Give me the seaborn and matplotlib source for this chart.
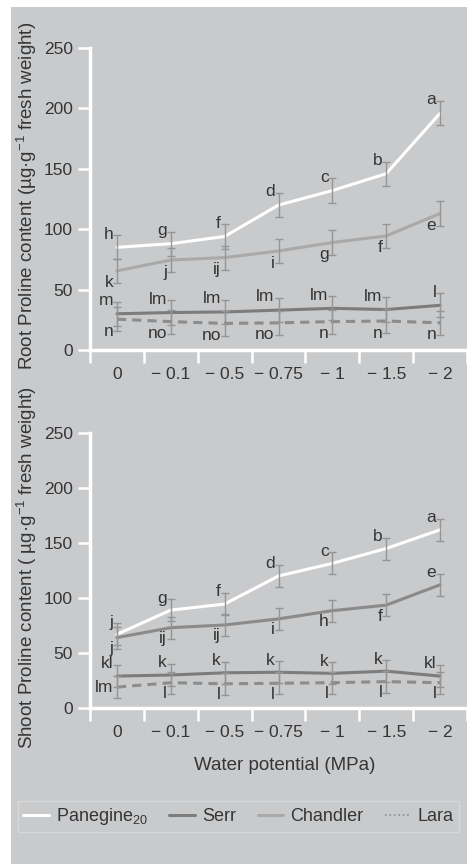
import numpy as np
import pandas as pd
import matplotlib
matplotlib.use('Agg')
import matplotlib.pyplot as plt
import seaborn as sns
from matplotlib.lines import Line2D
from matplotlib.patches import Rectangle

# water potential levels (MPa) and cultivars
potentials = ['0', '\u2212 0.1', '\u2212 0.5', '\u2212 0.75', '\u2212 1', '\u2212 1.5', '\u2212 2']
cultivars = ['Panegine20', 'Serr', 'Chandler', 'Lara']

# ---- root proline (ug/g fresh weight) ----
root_panegine = [85, 88, 94, 120, 132, 146, 196]
root_serr = [30, 31, 31.5, 33, 34.5, 33.5, 37]
root_chandler = [65.5, 74.5, 76.5, 82, 89, 94.5, 113]
root_lara = [25.5, 23.5, 22, 22.5, 23.5, 24, 22.5]
root_err = [10, 10, 10, 10, 10, 10, 10]

root_let_panegine = ['h', 'g', 'f', 'd', 'c', 'b', 'a']
root_let_serr = ['m', 'lm', 'lm', 'lm', 'lm', 'lm', 'l']
root_let_chandler = ['k', 'j', 'ij', 'i', 'g', 'f', 'e']
root_let_lara = ['n', 'no', 'no', 'no', 'n', 'n', 'n']

# ---- shoot proline ----
shoot_panegine = [67, 89, 94.5, 120, 131.5, 145, 162]
shoot_serr = [29, 30, 32, 32.5, 31.5, 33.5, 29]
shoot_chandler = [64, 73, 75.5, 81, 88.5, 93.5, 112]
shoot_lara = [19, 23, 22, 22.5, 23, 24, 23]
shoot_err = [10, 10, 10, 10, 10, 10, 10]

shoot_let_panegine = ['j', 'g', 'f', 'd', 'c', 'b', 'a']
shoot_let_serr = ['kl', 'k', 'k', 'k', 'k', 'k', 'kl']
shoot_let_chandler = ['j', 'ij', 'ij', 'i', 'h', 'f', 'e']
shoot_let_lara = ['lm', 'l', 'l', 'l', 'l', 'l', 'l']

BG = '#c9cacc'
TXT = '#353535'

sns.set_theme(style='white')
plt.rcParams['font.family'] = ['Liberation Sans', 'DejaVu Sans']
plt.rcParams['mathtext.fontset'] = 'custom'
plt.rcParams['mathtext.rm'] = 'Liberation Sans'
plt.rcParams['mathtext.default'] = 'regular'


def make_df(vals):
    rows = []
    for c, v in zip(cultivars, vals):
        for i, y in enumerate(v):
            rows.append({'pos': i, 'value': y, 'cultivar': c})
    return pd.DataFrame(rows)


def draw_panel(ax, vals, errs, letters, places, palette, ylabel):
    df = make_df(vals)
    sns.lineplot(data=df, x='pos', y='value', hue='cultivar', style='cultivar',
                 palette=palette, dashes={'Panegine20': '', 'Serr': '', 'Chandler': '', 'Lara': (3, 2)},
                 hue_order=['Lara', 'Serr', 'Chandler', 'Panegine20'],
                 linewidth=2.2, legend=False, ax=ax)
    for c, v in zip(cultivars, vals):
        ax.errorbar(range(7), v, yerr=errs, fmt='none', ecolor='#959595', elinewidth=1,
                    capsize=3, capthick=1, zorder=5)
    for v, lets, pl in zip(vals, letters, places):
        for i, (y, l, p) in enumerate(zip(v, lets, pl)):
            if p == 'up':
                yy = y + errs[i] + 1
            elif p == 'down':
                yy = y - errs[i]
            else:
                yy = y
            ax.text(i - 0.07, yy, l, ha='right', va='center', fontsize=12.5, color=TXT, zorder=6)

    ax.set_facecolor('none')
    ax.set_xlim(-0.5, 6.35)
    ax.set_ylim(0, 255)
    ax.set_xticks(np.arange(-0.5, 7, 1))
    ax.set_xticks(range(7), minor=True)
    ax.set_xticklabels(potentials, minor=True)
    ax.set_yticks([0, 50, 100, 150, 200, 250])
    ax.tick_params(axis='x', which='major', direction='out', length=9, width=1.8,
                   color='white', labelbottom=False, bottom=True)
    ax.tick_params(axis='x', which='minor', length=0, pad=12, labelsize=12.5, labelcolor=TXT)
    ax.tick_params(axis='y', direction='out', length=8.5, width=1.8, color='white', left=True,
                   pad=4, labelsize=12.5, labelcolor=TXT)
    for s in ['top', 'right']:
        ax.spines[s].set_visible(False)
    for s in ['left', 'bottom']:
        ax.spines[s].set_color('white')
        ax.spines[s].set_linewidth(2.5)
    ax.spines['left'].set_bounds(0, 250)
    ax.set_xlabel('')
    ax.set_ylabel(ylabel, fontsize=13.5, color=TXT)
    ax.yaxis.set_label_coords(-0.135, 0.5)


fig = plt.figure(figsize=(4.67, 8.64), dpi=100)
fig.patch.set_facecolor('white')
fig.add_artist(Rectangle((11 / 467, 0), 1, 1 - 7 / 864, transform=fig.transFigure,
                         facecolor=BG, edgecolor='none', zorder=-10))

ax_root = fig.add_axes([90 / 467, 1 - 350 / 864, 377 / 467, 308 / 864])
ax_shoot = fig.add_axes([90 / 467, 1 - 708 / 864, 377 / 467, 280.5 / 864])

pal_root = {'Panegine20': 'white', 'Serr': '#7c7c7c', 'Chandler': '#a9a9a9', 'Lara': '#8c8c8c'}
pal_shoot = {'Panegine20': 'white', 'Serr': '#7c7c7c', 'Chandler': '#8a8a8a', 'Lara': '#8c8c8c'}

draw_panel(ax_root,
           [root_panegine, root_serr, root_chandler, root_lara], root_err,
           [root_let_panegine, root_let_serr, root_let_chandler, root_let_lara],
           [['up'] * 7, ['up'] * 7, ['down'] * 7, ['down'] * 7],
           pal_root, 'Root Proline content (µg·g$^{-1}$ fresh weight)')

draw_panel(ax_shoot,
           [shoot_panegine, shoot_serr, shoot_chandler, shoot_lara], shoot_err,
           [shoot_let_panegine, shoot_let_serr, shoot_let_chandler, shoot_let_lara],
           [['up'] * 7, ['up'] * 7, ['down'] * 6 + ['up'], ['mid'] + ['down'] * 6],
           pal_shoot, 'Shoot Proline content ( µg·g$^{-1}$ fresh weight)')

ax_shoot.set_xlabel('Water potential (MPa)', fontsize=13.5, color=TXT)
ax_shoot.xaxis.set_label_coords(0.517, -0.175)

handles = [Line2D([], [], color='white', lw=2.2),
           Line2D([], [], color='#7c7c7c', lw=2.2),
           Line2D([], [], color='#a9a9a9', lw=2.2),
           Line2D([], [], color='#8c8c8c', lw=1.2, ls=':')]
labels = ['Panegine$_{20}$', 'Serr', 'Chandler', 'Lara']
leg = fig.legend(handles, labels, loc='center left', bbox_to_anchor=(18 / 467, 1 - 816.5 / 864),
                 ncol=4, fontsize=13, frameon=True, fancybox=False, facecolor=BG,
                 edgecolor='#dcdcdc', handlelength=1.4, handletextpad=0.4, columnspacing=1.2,
                 borderpad=0.3, borderaxespad=0)
for t in leg.get_texts():
    t.set_color(TXT)

fig.savefig('out.png', dpi=100, facecolor=fig.get_facecolor())
